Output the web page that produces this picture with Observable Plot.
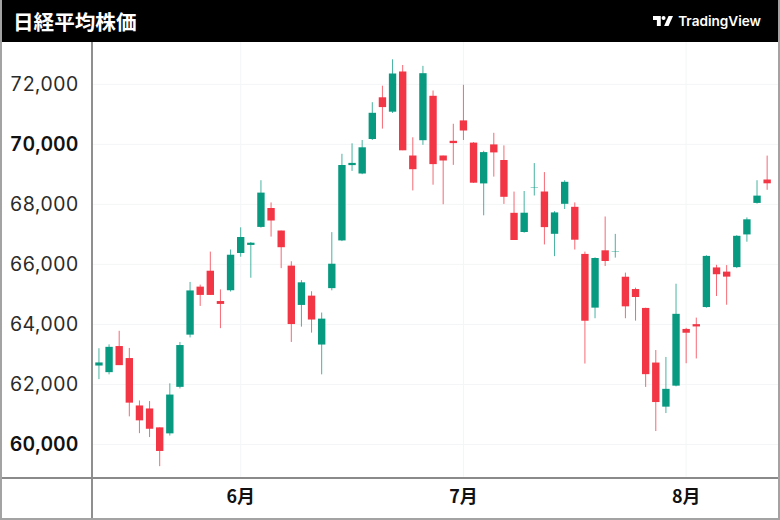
<!DOCTYPE html>
<html lang="ja">
<head>
<meta charset="utf-8">
<script src="https://cdn.jsdelivr.net/npm/d3@7"></script>
<script src="https://cdn.jsdelivr.net/npm/@observablehq/plot@0.6"></script>
<style>
html,body{margin:0;padding:0;background:#fff;overflow:hidden}
#wrap{position:relative;width:780px;height:520px;box-sizing:border-box;border:2px solid #a3a3a3;border-top:0;overflow:hidden}
#head{position:absolute;left:-2px;top:0;width:780px;height:42px;background:#000;color:#fff;display:flex;align-items:center;justify-content:space-between;z-index:2}
#title{font:700 20.6px "Noto Sans CJK JP","Noto Sans",sans-serif;margin-left:13px}
#brand{display:flex;align-items:center;margin-right:19px;font:600 13.6px Inter,sans-serif;gap:5px}
#chart{position:absolute;left:-2px;top:42px;z-index:1}
#chart svg{display:block}
.sepV{position:absolute;left:89px;top:42px;bottom:0;width:2px;background:#8f8f8f;z-index:3}
.sepH{position:absolute;left:0;right:0;top:477px;height:2px;background:#8a8a8a;z-index:3}
</style>
</head>
<body>
<div id="wrap">
  <div id="head">
    <div id="title">日経平均株価</div>
    <div id="brand"><svg width="20" height="10" viewBox="0 0 36 18" fill="#fff"><path d="M0 0H14V18H7V7H0Z"/><circle cx="19" cy="3.6" r="3.6"/><path d="M28 0H36L28 18H20Z"/></svg><span>TradingView</span></div>
  </div>
  <div id="chart"></div>
  <div class="sepV"></div>
  <div class="sepH"></div>
</div>
<script>
const opens  = [62600,62380,63250,62850,61270,61170,60540,60340,61890,63630,65230,65760,64750,65110,66350,66620,67220,67850,67100,65930,64620,64930,63300,65180,66770,69280,69000,70150,71540,71060,72400,69600,70110,71590,69600,70090,70770,70030,68670,69970,69450,67690,67050,68520,68400,66990,67990,67890,66320,64530,66440,66400,65560,65150,64520,62700,61230,61930,63820,63980,64550,65870,65730,65880,66970,68020,68800];
const closes = [62730,63250,62640,61390,60800,60520,59780,61660,63310,65130,64980,64980,64680,66320,66910,66720,68390,67460,66570,64010,65400,64160,64190,66020,69310,69380,69900,71050,71240,72360,69800,69170,72370,69340,69460,70040,70460,68720,69740,69730,68250,66810,67720,68560,67240,67730,68750,66820,64120,66210,66110,66440,64600,64910,62340,61410,61850,64350,63720,63930,66280,65670,65590,66950,67500,68290,68700];
const highs  = [63190,63320,63770,63200,61450,61430,60550,62020,63400,65400,65310,66410,65150,66480,67220,66730,68790,68050,67110,66090,65460,65090,64380,67060,69670,70020,70130,71390,71940,72820,72630,70220,72600,71780,69610,70670,71970,70060,69770,70370,69950,68410,68430,69360,69060,67760,68790,68050,66410,66220,67580,67000,65710,65210,64540,63130,62900,65340,63870,64210,66290,65970,65960,66960,67550,68790,69610];
const lows   = [62160,62320,62630,60920,60360,60230,59260,60280,61850,63550,64600,64970,63860,65080,66240,65540,67210,66910,65860,63400,63910,63710,62320,65120,66760,69100,68990,70130,70510,71030,69790,68450,69970,68640,67990,69300,70130,68700,67620,68910,68000,66800,67040,68280,66650,66260,67830,66480,62680,64190,65930,66210,64190,64110,61900,60430,61030,61920,62690,62850,64540,64930,64640,65860,66740,68010,68470];

const monthTicks  = [14,36,58];
const monthLabels = ["6月","7月","8月"];
const plainTicks  = [62000,64000,66000,68000,72000];
const boldTicks   = [60000,70000];

const up = "#089981", down = "#F23645";
const candles = opens.map((o,i)=>({i,open:o,close:closes[i],high:highs[i],low:lows[i],color:closes[i]>=o?up:down}));
const fmt = d3.format(",");
const monthName = i => monthLabels[monthTicks.indexOf(i)];
const numFont = "Inter, sans-serif";

const chart = Plot.plot({
  width:780,height:478,
  marginLeft:92,marginRight:0,marginTop:0,marginBottom:42,
  x:{type:"linear",domain:[-0.66,67.12],axis:null,label:null},
  y:{type:"linear",domain:[58903,73396],axis:null,label:null},
  style:{background:"transparent"},
  marks:[
    Plot.gridY([...plainTicks,...boldTicks],{stroke:"#f4f5f6",strokeOpacity:1}),
    Plot.gridX(monthTicks,{stroke:"#f4f5f6",strokeOpacity:1}),
    Plot.ruleX(candles,{x:"i",y1:"low",y2:"high",stroke:"color",strokeWidth:1,strokeOpacity:0.75}),
    Plot.ruleX(candles,{x:"i",y1:"open",y2:"close",stroke:"color",strokeWidth:7.4,insetTop:-0.4,insetBottom:-0.4}),
    Plot.axisY(plainTicks,{anchor:"left",label:null,tickSize:0,tickPadding:14,tickFormat:fmt,fontSize:19.6,fontFamily:numFont,fontWeight:400,fill:"#2b2b2b",letterSpacing:"0.4"}),
    Plot.axisY(boldTicks,{anchor:"left",label:null,tickSize:0,tickPadding:14,tickFormat:fmt,fontSize:19.6,fontFamily:numFont,fontWeight:600,fill:"#111",letterSpacing:"0.4"}),
    Plot.axisX(monthTicks,{anchor:"bottom",label:null,tickSize:0,tickPadding:13,tickFormat:monthName,fontSize:18,fontFamily:'"Noto Sans CJK JP",sans-serif',fontWeight:700,fill:"#111"})
  ]
});
document.getElementById("chart").appendChild(chart);
</script>
</body>
</html>
